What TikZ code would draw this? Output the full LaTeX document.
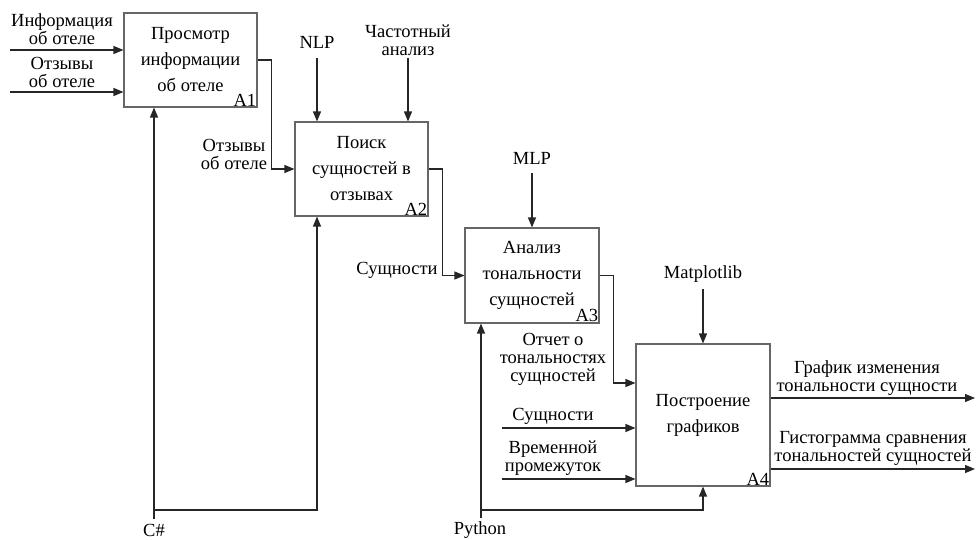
\documentclass[tikz,border=0pt]{standalone}
\usepackage{fontspec}
\setmainfont{Liberation Serif}
\usetikzlibrary{arrows.meta}
\begin{document}
\begin{tikzpicture}[x=1pt,y=-1pt,
  box/.style={draw=black!60,line width=1.1pt,inner sep=0pt,align=center,font=\fontsize{18.5}{26}\selectfont},
  lab/.style={align=center,inner sep=0pt,font=\fontsize{18.5}{18}\selectfont},
  tag/.style={anchor=south east,inner sep=1.2pt,font=\fontsize{18.5}{18}\selectfont},
  ln/.style={draw=black!85,line width=1.2pt},
  arr/.style={ln,-{Triangle[length=10pt,width=8pt]}}]
\useasboundingbox (0,0) rectangle (976,540);
% boxes
\node[box,minimum width=133pt,minimum height=94pt] (a1) at (190.5,60) {Просмотр\\информации\\об отеле};
\node[box,minimum width=133pt,minimum height=94pt] (a2) at (361.5,169) {Поиск\\сущностей в\\отзывах};
\node[box,minimum width=134pt,minimum height=95pt] (a3) at (532,275.5) {Анализ\\тональности\\сущностей};
\node[box,minimum width=134pt,minimum height=142pt] (a4) at (703,415) {Построение\\графиков};
\node[tag] (t1) at (a1.south east) {A1};
\node[tag] (t2) at (a2.south east) {A2};
\node[tag] (t3) at (a3.south east) {A3};
\node[tag] (t4) at (a4.south east) {A4};
% labels
\node[lab] (l1) at (62,29) {Информация\\об отеле};
\node[lab] (l2) at (62,72) {Отзывы\\об отеле};
\node[lab] (l3) at (234,154) {Отзывы\\об отеле};
\node[lab] (l4) at (317,42) {NLP};
\node[lab] (l5) at (408,40) {Частотный\\анализ};
\node[lab] (l6) at (397,270) {Сущности};
\node[lab] (l7) at (532,158) {MLP};
\node[lab] (l8) at (553,359) {Отчет о\\тональностях\\сущностей};
\node[lab] (l9) at (703,274) {Matplotlib};
\node[lab] (l10) at (553,416) {Сущности};
\node[lab] (l11) at (553,458) {Временной\\промежуток};
\node[lab] (l12) at (867,378) {График изменения\\тональности сущности};
\node[lab] (l13) at (873,448) {Гистограмма сравнения\\тональностей сущностей};
\node[lab] (l14) at (154,530) {C\#};
\node[lab] (l15) at (480,530) {Python};
% coordinates
\coordinate (i1) at (10,50);
\coordinate (i2) at (10,92);
\coordinate (cs) at (154,519);
\coordinate (csb) at (154,510);
\coordinate (m2) at (317,0);
\coordinate (nlp) at (317,58);
\coordinate (fa) at (408,58);
\coordinate (mlp) at (532,173);
\coordinate (mpl) at (703,289);
\coordinate (py) at (481,518);
\coordinate (pyb) at (481,510);
\coordinate (y383) at (0,383);
\coordinate (s4) at (502,428);
\coordinate (vp) at (502,479);
\coordinate (y398) at (0,398);
\coordinate (y469) at (0,469);
\coordinate (o1) at (975,398);
\coordinate (o2) at (975,469);
% connectors
\draw[arr] (i1) -- (a1.west |- i1);
\draw[arr] (i2) -- (a1.west |- i2);
\draw[arr] (a1.east) -- ++(14,0) |- (a2.west);
\draw[arr] (a2.east) -- ++(14,0) |- (a3.west);
\draw[arr] (a3.east) -- ++(14,0) |- (a4.west |- y383);
\draw[arr] (cs) -- (cs |- a1.south);
\draw[arr] (csb) -| (m2 |- a2.south);
\draw[arr] (nlp) -- (nlp |- a2.north);
\draw[arr] (fa) -- (fa |- a2.north);
\draw[arr] (mlp) -- (mlp |- a3.north);
\draw[arr] (mpl) -- (mpl |- a4.north);
\draw[arr] (py) -- (py |- a3.south);
\draw[arr] (pyb) -| (a4.south);
\draw[arr] (s4) -- (a4.west |- s4);
\draw[arr] (vp) -- (a4.west |- vp);
\draw[arr] (a4.east |- y398) -- (o1);
\draw[arr] (a4.east |- y469) -- (o2);
\end{tikzpicture}
\end{document}
